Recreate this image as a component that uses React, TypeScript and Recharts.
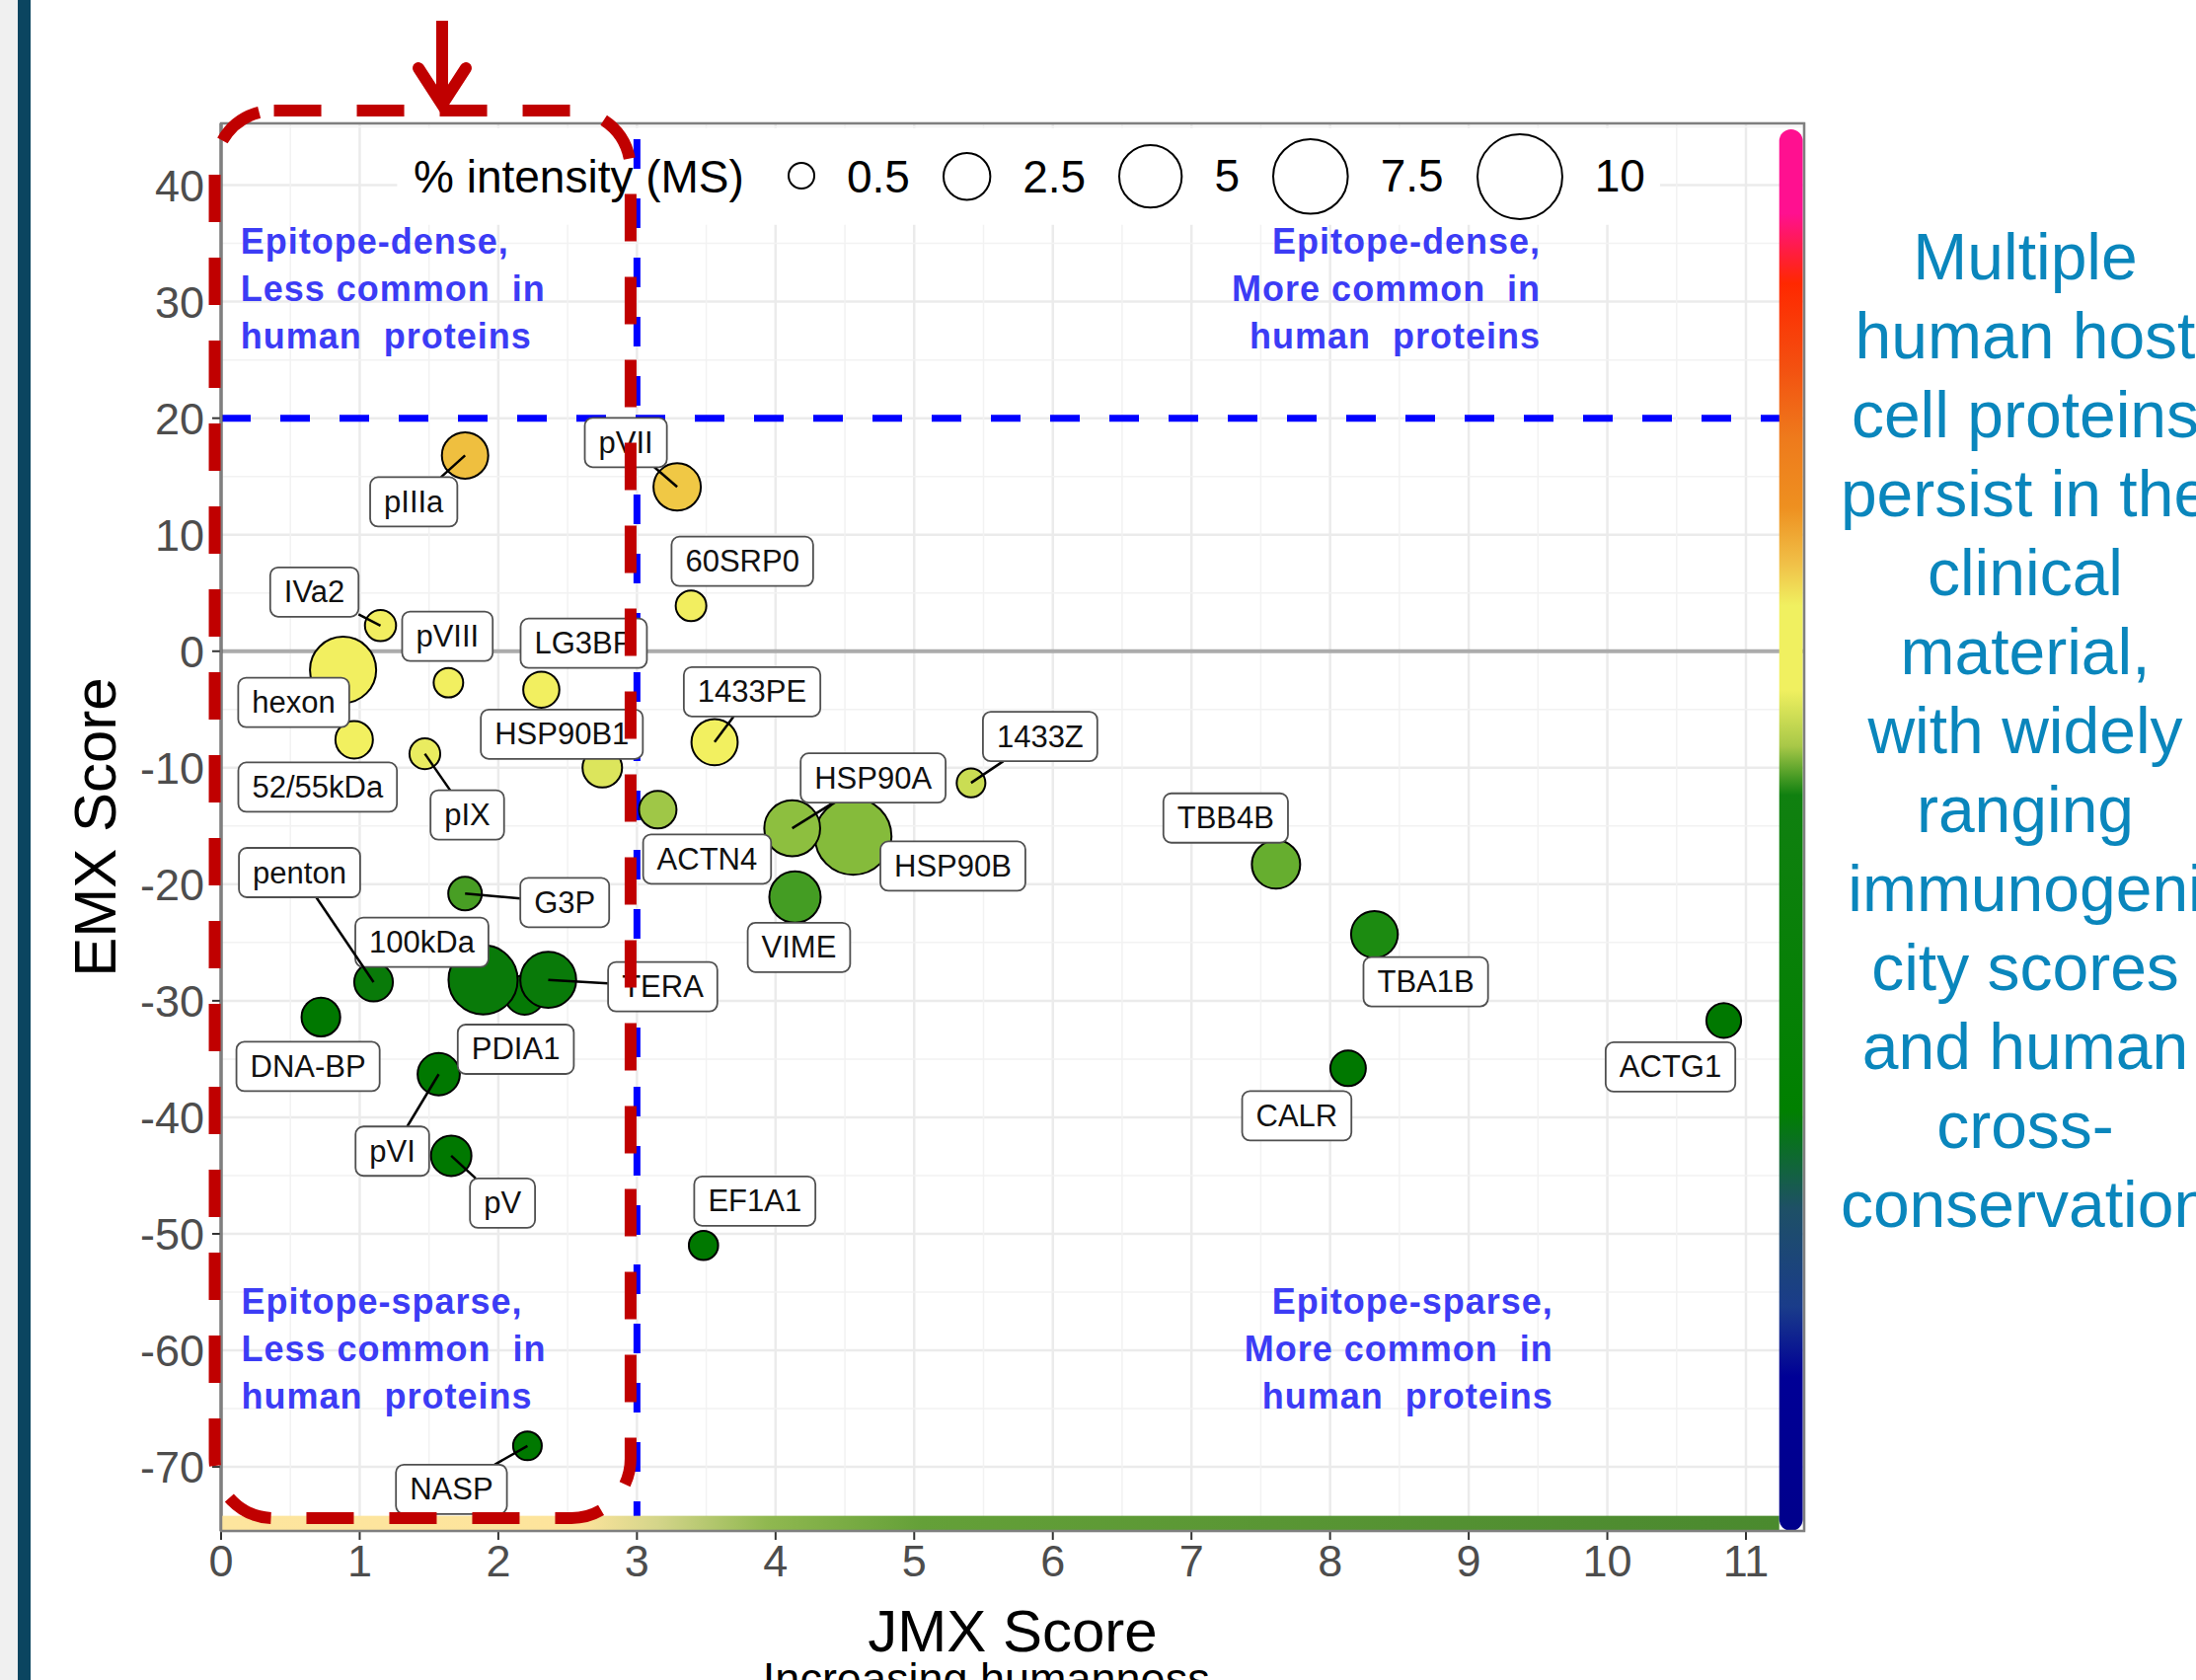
import React from "react";
import {
  ScatterChart,
  Scatter,
  XAxis,
  YAxis,
  CartesianGrid,
  ReferenceLine,
  ReferenceArea,
  ReferenceDot,
  Legend,
} from "recharts";

// protein, JMX score (x), EMX score (y), % intensity (MS)
const proteins = [
  "pIIIa", "pVII", "60SRP0", "IVa2", "hexon", "pVIII", "LG3BP", "52/55kDa", "pIX", "HSP90B1",
  "1433PE", "1433Z", "ACTN4", "HSP90B", "HSP90A", "VIME", "TBB4B", "G3P", "TBA1B", "PDIA1",
  "100kDa", "TERA", "penton", "DNA-BP", "CALR", "ACTG1", "pVI", "pV", "EF1A1", "NASP",
];
const jmxScore = [
  1.76, 3.29, 3.39, 1.15, 0.88, 1.64, 2.31, 0.96, 1.47, 2.75,
  3.56, 5.41, 3.15, 4.56, 4.12, 4.14, 7.61, 1.76, 8.32, 2.19,
  1.89, 2.36, 1.1, 0.72, 8.13, 10.84, 1.57, 1.66, 3.48, 2.21,
];
const emxScore = [
  16.8, 14.1, 3.9, 2.2, -1.6, -2.7, -3.3, -7.6, -8.8, -10.0,
  -7.8, -11.3, -13.6, -15.9, -15.2, -21.1, -18.3, -20.8, -24.3, -29.5,
  -28.2, -28.2, -28.4, -31.4, -35.8, -31.7, -36.3, -43.3, -51.0, -68.2,
];
const intensity = [
  2.45, 2.58, 0.83, 0.87, 5.7, 0.75, 1.3, 1.43, 0.84, 1.64,
  2.43, 0.69, 1.43, 7.95, 3.84, 3.14, 2.71, 1.07, 2.5, 1.64,
  6.3, 3.84, 1.55, 1.55, 1.24, 1.17, 1.94, 1.74, 0.73, 0.69,
];

const xTicks = [0, 1, 2, 3, 4, 5, 6, 7, 8, 9, 10, 11];
const yTicks = [-70, -60, -50, -40, -30, -20, -10, 0, 10, 20, 30, 40];
const xMinor = [0.5, 1.5, 2.5, 3.5, 4.5, 5.5, 6.5, 7.5, 8.5, 9.5, 10.5];
const yMinor = [-65, -55, -45, -35, -25, -15, -5, 5, 15, 25, 35, 45];
const legendValues = [0.5, 2.5, 5, 7.5, 10];

const sideNote = [
  "Multiple", "human host", "cell proteins", "persist in the", "clinical", "material,",
  "with widely", "ranging", "immunogeni", "city scores", "and human", "cross-", "conservation",
];

const quadrantNotes = [
  { x: 0.14, y: 34.1, anchor: "start", lines: ["Epitope-dense,", "Less common  in", "human  proteins"] },
  { x: 9.52, y: 34.1, anchor: "end", lines: ["Epitope-dense,", "More common  in", "human  proteins"] },
  { x: 0.146, y: -56.9, anchor: "start", lines: ["Epitope-sparse,", "Less common  in", "human  proteins"] },
  { x: 9.61, y: -56.9, anchor: "end", lines: ["Epitope-sparse,", "More common  in", "human  proteins"] },
];

// ggrepel-like label placement: [dx, dy, draw segment]
const labelNudge: Record<string, [number, number, boolean]> = {
  pIIIa: [-52, 47, true],
  pVII: [-52, -45, true],
  "60SRP0": [52, -45, false],
  IVa2: [-67, -34, true],
  hexon: [-50, 33, false],
  pVIII: [-1, -47, false],
  LG3BP: [43, -47, false],
  "52/55kDa": [-37, 48, false],
  pIX: [43, 62, true],
  HSP90B1: [-41, -34, false],
  "1433PE": [38, -51, true],
  "1433Z": [70, -47, true],
  ACTN4: [50, 50, false],
  HSP90B: [101, 30, false],
  HSP90A: [82, -51, true],
  VIME: [4, 51, false],
  TBB4B: [-51, -47, false],
  G3P: [101, 9, true],
  TBA1B: [52, 48, false],
  PDIA1: [-9, 55, false],
  "100kDa": [-62, -38, false],
  TERA: [116, 7, true],
  penton: [-75, -111, true],
  "DNA-BP": [-13, 50, false],
  CALR: [-52, 48, false],
  ACTG1: [-54, 47, false],
  pVI: [-47, 78, true],
  pV: [52, 48, true],
  EF1A1: [52, -45, false],
  NASP: [-77, 44, true],
};

// fill colour scale along EMX score
const fillStops: [number, string][] = [
  [17, "#EFBE3E"], [13, "#F0CC48"], [5, "#F2EE60"], [-8, "#F2F060"], [-9.5, "#E2E860"],
  [-11, "#D0E055"], [-13.5, "#A0C848"], [-15, "#90C040"], [-18, "#6AB030"], [-20.5, "#4CA026"],
  [-24, "#1E8C12"], [-28, "#0A7A0A"], [-31, "#007800"],
];

const colorbarStops: [number, string][] = [
  [0, "#FF1090"], [0.06, "#FF1090"], [0.11, "#FF2800"], [0.17, "#F35010"], [0.22, "#EE7A1C"],
  [0.27, "#EE9020"], [0.31, "#F0C048"], [0.34, "#F0F060"], [0.4, "#F0F060"], [0.44, "#A8C848"],
  [0.475, "#108010"], [0.7, "#008000"], [0.77, "#1E5066"], [0.84, "#1A3C8A"], [0.89, "#000096"], [1, "#00008B"],
];

const rugStops: [number, string][] = [
  [0, "#FDE59E"], [0.23, "#FDE49C"], [0.28, "#D4D58A"], [0.35, "#90B850"], [0.45, "#64A038"],
  [0.9, "#4E8C30"], [1, "#4A8A2E"],
];

const data = proteins.map((name, i) => ({
  name,
  jmx: jmxScore[i],
  emx: emxScore[i],
  intensity: intensity[i],
}));

const FONT = "'Liberation Sans', Arial, sans-serif";

const sizeRadius = (v: number) => 4.4 + 12.2 * Math.sqrt(v);

function hexToRgb(h: string) {
  const n = parseInt(h.slice(1), 16);
  return [(n >> 16) & 255, (n >> 8) & 255, n & 255];
}

function fillFor(y: number) {
  if (y >= fillStops[0][0]) return fillStops[0][1];
  for (let i = 1; i < fillStops.length; i++) {
    const [y1, c1] = fillStops[i - 1];
    const [y2, c2] = fillStops[i];
    if (y >= y2) {
      const t = (y1 - y) / (y1 - y2);
      const a = hexToRgb(c1);
      const b = hexToRgb(c2);
      const m = a.map((v, k) => Math.round(v + (b[k] - v) * t));
      return `rgb(${m[0]},${m[1]},${m[2]})`;
    }
  }
  return fillStops[fillStops.length - 1][1];
}

let ctx: CanvasRenderingContext2D | null = null;
function textWidth(s: string, font: string) {
  if (!ctx) ctx = document.createElement("canvas").getContext("2d");
  if (!ctx) return s.length * 17;
  ctx.font = font;
  return ctx.measureText(s).width;
}

const Bubble = (props: any) => {
  const { cx, cy, payload } = props;
  if (cx == null || cy == null) return null;
  return (
    <circle
      cx={cx}
      cy={cy}
      r={sizeRadius(payload.intensity)}
      fill={fillFor(payload.emx)}
      stroke="#000"
      strokeWidth={2}
    />
  );
};

const RepelLabel = (props: any) => {
  const { cx, cy, payload } = props;
  if (cx == null || cy == null) return null;
  const [dx, dy, seg] = labelNudge[payload.name] || [0, -40, false];
  const w = textWidth(payload.name, `31px ${FONT}`) + 28;
  const h = 50;
  const bx = cx + dx;
  const by = cy + dy;
  // segment from point to the label box edge
  const vx = -dx;
  const vy = -dy;
  const s = Math.min(vx ? w / 2 / Math.abs(vx) : Infinity, vy ? h / 2 / Math.abs(vy) : Infinity);
  return (
    <g>
      {seg && (
        <line x1={cx} y1={cy} x2={bx + vx * s} y2={by + vy * s} stroke="#000" strokeWidth={2.5} />
      )}
      <rect x={bx - w / 2} y={by - h / 2} width={w} height={h} rx={8} fill="#fff" stroke="#505050" strokeWidth={1.8} />
      <text x={bx} y={by} textAnchor="middle" dominantBaseline="central" fontSize={31} fill="#111">
        {payload.name}
      </text>
    </g>
  );
};

const ColorBar = (props: any) => {
  const { x, y, width, height } = props;
  return (
    <g>
      <defs>
        <linearGradient id="cbarGrad" x1="0" y1="0" x2="0" y2="1">
          {colorbarStops.map(([o, c]) => (
            <stop key={o} offset={o} stopColor={c} />
          ))}
        </linearGradient>
      </defs>
      <rect x={x} y={y} width={width} height={height} rx={width / 2} fill="url(#cbarGrad)" />
    </g>
  );
};

const RugBar = (props: any) => {
  const { x, y, width, height } = props;
  return (
    <g>
      <defs>
        <linearGradient id="rugGrad" x1="0" y1="0" x2="1" y2="0">
          {rugStops.map(([o, c]) => (
            <stop key={o} offset={o} stopColor={c} />
          ))}
        </linearGradient>
      </defs>
      <rect x={x} y={y} width={width} height={height} fill="url(#rugGrad)" />
    </g>
  );
};

const HighlightBox = (props: any) => {
  const { x, y, width, height } = props;
  return (
    <rect
      x={x}
      y={y}
      width={width}
      height={height}
      rx={60}
      fill="none"
      stroke="#C00000"
      strokeWidth={12}
      strokeDasharray="48 36"
    />
  );
};

const noteShape = (note: (typeof quadrantNotes)[number]) => (props: any) => {
  const { cx, cy } = props;
  return (
    <text
      x={cx}
      y={cy}
      textAnchor={note.anchor}
      fontSize={36}
      fontWeight="bold"
      fill="#3C3CF5"
      letterSpacing={1}
      style={{ whiteSpace: "pre" }}
    >
      {note.lines.map((l, i) => (
        <tspan key={i} x={cx} dy={i === 0 ? 0 : 48}>
          {l}
        </tspan>
      ))}
    </text>
  );
};

const SizeLegend = () => (
  <div
    style={{
      display: "flex",
      alignItems: "center",
      height: "100%",
      paddingLeft: 15,
      fontFamily: FONT,
      fontSize: 46,
      color: "#000",
      boxSizing: "border-box",
    }}
  >
    <span style={{ marginRight: 43, whiteSpace: "nowrap" }}>% intensity (MS)</span>
    {legendValues.map((v) => {
      const r = sizeRadius(v);
      return (
        <span key={v} style={{ display: "flex", alignItems: "center", marginRight: 32 }}>
          <svg width={2 * r + 4} height={2 * r + 4} style={{ display: "block" }}>
            <circle cx={r + 2} cy={r + 2} r={r} fill="none" stroke="#000" strokeWidth={2} />
          </svg>
          <span style={{ marginLeft: 31 }}>{v}</span>
        </span>
      );
    })}
  </div>
);

export default function App() {
  return (
    <div
      style={{
        position: "absolute",
        left: 0,
        top: 0,
        width: 2225,
        height: 1702,
        overflow: "hidden",
        background: "#fff",
        fontFamily: FONT,
      }}
    >
      <div style={{ position: "absolute", left: 0, top: 0, width: 18, height: 1702, background: "#F0F0F0" }} />
      <div style={{ position: "absolute", left: 18, top: 0, width: 13, height: 1702, background: "#0B4560" }} />

      <ScatterChart
        width={2225}
        height={1702}
        margin={{ top: 125, right: 397, bottom: 21, left: 96 }}
        style={{ fontFamily: FONT }}
      >
        <CartesianGrid stroke="#EBEBEB" strokeWidth={2.5} />
        {xMinor.map((v) => (
          <ReferenceLine key={`xm${v}`} x={v} stroke="#F2F2F2" strokeWidth={1.5} zIndex={-95} />
        ))}
        {yMinor.map((v) => (
          <ReferenceLine key={`ym${v}`} y={v} stroke="#F2F2F2" strokeWidth={1.5} zIndex={-95} />
        ))}
        <XAxis
          type="number"
          dataKey="jmx"
          domain={[0, 11.42]}
          ticks={xTicks}
          allowDataOverflow
          height={130}
          axisLine={false}
          tickSize={9}
          tickMargin={5}
          tickLine={{ stroke: "#333", strokeWidth: 2 }}
          tick={{ fontSize: 45, fill: "#4D4D4D" }}
          label={{ value: "JMX Score", position: "insideBottom", offset: 8, style: { fontSize: 60, fill: "#000" } }}
        />
        <YAxis
          type="number"
          dataKey="emx"
          domain={[-75.5, 45.3]}
          ticks={yTicks}
          allowDataOverflow
          width={128}
          axisLine={{ stroke: "#4D4D4D", strokeWidth: 3 }}
          tickSize={9}
          tickMargin={8}
          tickLine={{ stroke: "#333", strokeWidth: 2 }}
          tick={{ fontSize: 45, fill: "#4D4D4D" }}
          label={{
            value: "EMX Score",
            angle: -90,
            position: "insideLeft",
            offset: 0,
            style: { fontSize: 60, fill: "#000", textAnchor: "middle" },
          }}
        />
        {/* white backing for the size legend */}
        <ReferenceArea x1={1.27} x2={10.38} y1={36.6} y2={44.9} fill="#fff" fillOpacity={1} stroke="none" zIndex={-90} />
        <ReferenceLine y={0} stroke="#ABABAB" strokeWidth={4} zIndex={-80} />
        <ReferenceLine y={20} stroke="#0000FF" strokeWidth={7} strokeDasharray="30 30" zIndex={-70} />
        <ReferenceLine x={3} stroke="#0000FF" strokeWidth={7} strokeDasharray="30 30" zIndex={-70} />
        {quadrantNotes.map((n, i) => (
          <ReferenceDot key={`q${i}`} x={n.x} y={n.y} r={0} shape={noteShape(n)} zIndex={-60} />
        ))}
        <Scatter data={data} dataKey="emx" shape={Bubble} isAnimationActive={false} zIndex={600} />
        <Scatter data={data} dataKey="emx" shape={RepelLabel} isAnimationActive={false} zIndex={650} />
        <ReferenceArea x1={0} x2={11.24} y1={-75.5} y2={-74.2} shape={RugBar} zIndex={800} />
        <ReferenceArea x1={11.24} x2={11.41} y1={-75.5} y2={44.8} shape={ColorBar} zIndex={810} />
        <ReferenceArea x1={0} x2={11.42} y1={-75.5} y2={45.3} fill="none" stroke="#7F7F7F" strokeWidth={2.5} zIndex={820} />
        <ReferenceArea
          x1={-0.046}
          x2={2.954}
          y1={-74.4}
          y2={46.4}
          ifOverflow="visible"
          shape={HighlightBox}
          zIndex={900}
        />
        <Legend
          layout="horizontal"
          verticalAlign="middle"
          align="center"
          content={() => <SizeLegend />}
          wrapperStyle={{ position: "absolute", left: 404, top: 130, width: 1278, height: 97 }}
        />
      </ScatterChart>

      <svg
        width={2225}
        height={1702}
        style={{ position: "absolute", left: 0, top: 0, pointerEvents: "none", fontFamily: FONT }}
      >
        <line x1={448} y1={21} x2={448} y2={104} stroke="#C00000" strokeWidth={12} />
        <polyline
          points="424,69 448,106 472,69"
          fill="none"
          stroke="#C00000"
          strokeWidth={12}
          strokeLinecap="round"
          strokeLinejoin="miter"
        />
        <text x={1028} y={1716} textAnchor="middle" fontSize={45} fill="#000">
          Increasing humanness →
        </text>
      </svg>

      <div
        style={{
          position: "absolute",
          left: 1752,
          top: 220,
          width: 600,
          textAlign: "center",
          color: "#0A86BC",
          fontSize: 66,
          lineHeight: "80px",
          fontFamily: "'Liberation Sans', Arial, sans-serif",
        }}
      >
        {sideNote.map((l, i) => (
          <div key={i} style={{ whiteSpace: "nowrap" }}>
            {l}
          </div>
        ))}
      </div>
    </div>
  );
}
